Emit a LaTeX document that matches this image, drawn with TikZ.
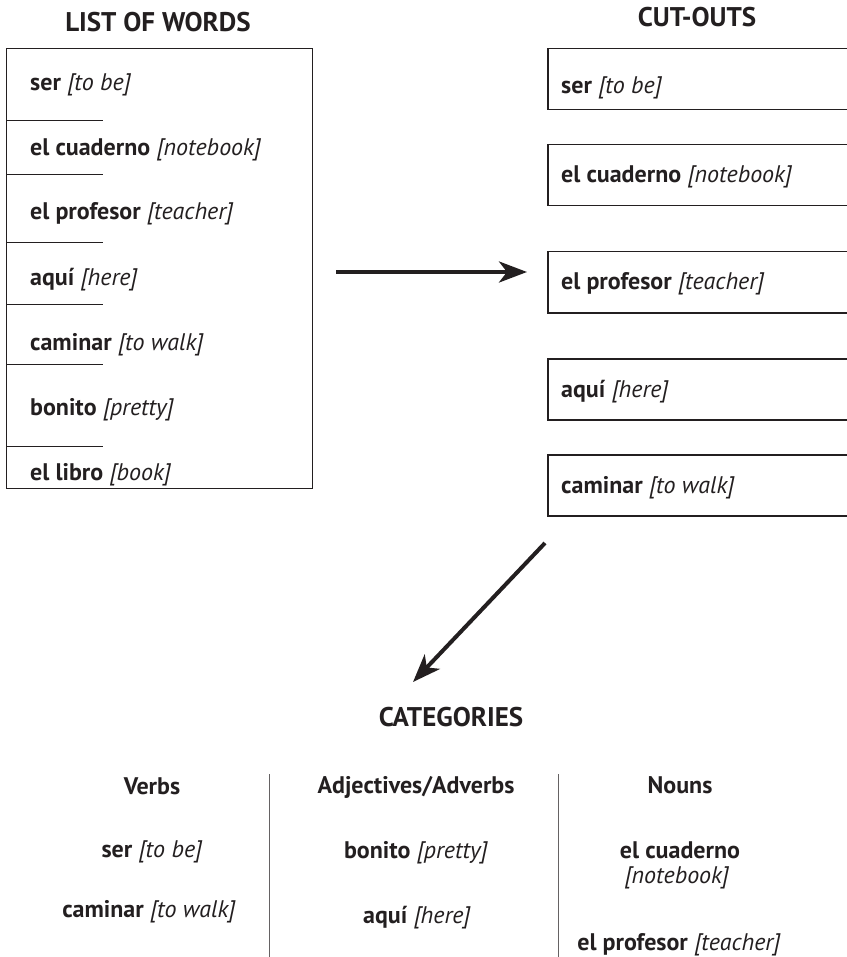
\documentclass[tikz,border=0pt]{standalone}
\usepackage{fontspec}
\setmainfont{PT Sans}
\usetikzlibrary{arrows.meta}
\definecolor{ink}{HTML}{231F20}
\newcommand{\vocab}[2]{\textbf{#1} \textit{[#2]}}
\tikzset{
  word/.style={font=\fontsize{24}{28}\selectfont, text=ink, inner sep=0pt},
  head/.style={font=\fontsize{24}{28}\selectfont\bfseries, text=ink, inner sep=0pt},
  title/.style={font=\fontsize{27}{32}\selectfont\bfseries, text=ink, inner sep=0pt},
  listframe/.style={draw=ink, line width=1.2pt, minimum width=306pt, minimum height=440pt, anchor=north west, inner sep=0pt},
  cutbox/.style={draw=ink, line width=1.5pt, minimum width=330pt, minimum height=61pt, anchor=north west, inner sep=0pt},
  tick/.style={draw=ink, line width=1pt},
  divider/.style={draw=ink!70, line width=1pt},
  bigarrow/.style={draw=ink, line width=4pt, -{Stealth[length=28pt, width=21pt, inset=8pt]}}
}
\begin{document}
\begin{tikzpicture}[x=1pt, y=-1pt]
\useasboundingbox (0,0) rectangle (846,957);

% Titles
\node[title, anchor=base] (listtitle) at (158,32) {LIST OF WORDS};
\node[title, anchor=base] (cuttitle) at (697,27) {CUT-OUTS};
\node[title, anchor=base] (cattitle) at (451,726) {CATEGORIES};

% List of words
\node[listframe] (list) at (6,48) {};
\foreach \y in {121,175,243,304,364,446}
  \draw[tick] (list.west |- 0,\y) -- ++(97,0);
\node[word, anchor=base west] (w1) at (30,91) {\vocab{ser}{to be}};
\node[word, anchor=base west] (w2) at (30,156) {\vocab{el cuaderno}{notebook}};
\node[word, anchor=base west] (w3) at (30,220) {\vocab{el profesor}{teacher}};
\node[word, anchor=base west] (w4) at (30,285) {\vocab{aquí}{here}};
\node[word, anchor=base west] (w5) at (30,350) {\vocab{caminar}{to walk}};
\node[word, anchor=base west] (w6) at (30,415) {\vocab{bonito}{pretty}};
\node[word, anchor=base west] (w7) at (30,480) {\vocab{el libro}{book}};

% Cut-outs
\node[cutbox] (cut1) at (547,48) {};
\node[cutbox] (cut2) at (547,144) {};
\node[cutbox] (cut3) at (547,251) {};
\node[cutbox] (cut4) at (547,358) {};
\node[cutbox] (cut5) at (547,454) {};
\node[word, anchor=base west] (c1) at (561,94) {\vocab{ser}{to be}};
\node[word, anchor=base west] (c2) at (561,183) {\vocab{el cuaderno}{notebook}};
\node[word, anchor=base west] (c3) at (561,290) {\vocab{el profesor}{teacher}};
\node[word, anchor=base west] (c4) at (561,397) {\vocab{aquí}{here}};
\node[word, anchor=base west] (c5) at (561,493) {\vocab{caminar}{to walk}};

% Arrows
\draw[bigarrow, shorten <=23pt, shorten >=20pt] (list.east |- 0,272) -- (cut3.west |- 0,272);
\coordinate (d1) at (545,543);
\coordinate (d2) at (413,682);
\draw[bigarrow] (d1) -- (d2);

% Categories
\draw[divider] (269,774) -- (269,957);
\draw[divider] (558,774) -- (558,957);
\node[head, anchor=base] (verbs) at (152,794) {Verbs};
\node[head, anchor=base] (adjs) at (416,793) {Adjectives/Adverbs};
\node[head, anchor=base] (nouns) at (680,793) {Nouns};
\node[word, anchor=base] (v1) at (152,857) {\vocab{ser}{to be}};
\node[word, anchor=base] (v2) at (149,917) {\vocab{caminar}{to walk}};
\node[word, anchor=base] (a1) at (416,858) {\vocab{bonito}{pretty}};
\node[word, anchor=base] (a2) at (417,923) {\vocab{aquí}{here}};
\node[word, anchor=base] (n1) at (680,858) {\textbf{el cuaderno}};
\node[word, anchor=base] (n1b) at (677,883) {\textit{[notebook]}};
\node[word, anchor=base] (n2) at (679,950) {\vocab{el profesor}{teacher}};
\end{tikzpicture}
\end{document}
